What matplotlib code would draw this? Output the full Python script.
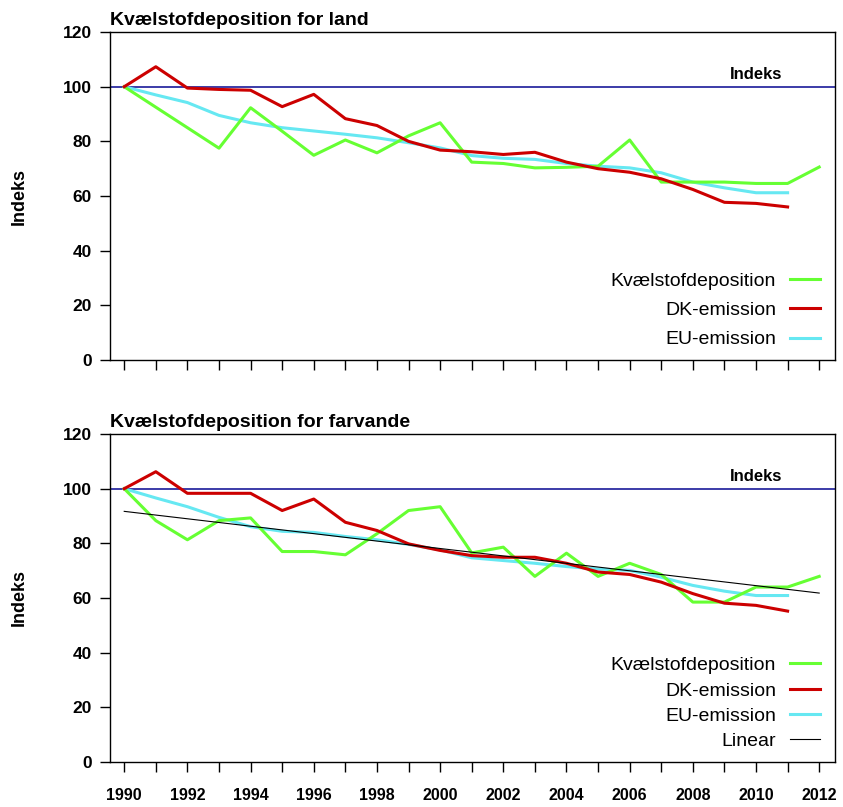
import matplotlib
matplotlib.use("Agg")
import matplotlib.pyplot as plt

plt.rcParams['font.family'] = ['Liberation Sans', 'DejaVu Sans']

years = list(range(1990, 2013))
years_emis = list(range(1990, 2012))

# Kvaelstofdeposition for land
land_dep = [100, 92.5, 85, 77.5, 92.3, 83.7, 74.9, 80.5, 75.8, 82, 86.8, 72.4,
            71.9, 70.3, 70.5, 70.9, 80.5, 65.1, 65.1, 65.1, 64.6, 64.6, 70.6]
land_dk = [100, 107.3, 99.5, 99, 98.7, 92.7, 97.2, 88.3, 85.8, 80, 76.8, 76.2,
           75.2, 76, 72.4, 70, 68.7, 66.3, 62.4, 57.7, 57.3, 56]
land_eu = [100, 97, 94.2, 89.5, 86.8, 85, 83.8, 82.6, 81.3, 79.5, 77.6, 74.8,
           73.8, 73.4, 71.9, 70.9, 70.3, 68.5, 65.1, 63, 61.2, 61.2]

# Kvaelstofdeposition for farvande
sea_dep = [100, 88.3, 81.3, 88.3, 89.3, 77, 77, 75.8, 83.5, 92, 93.4, 76.5,
           78.6, 67.9, 76.4, 67.9, 72.7, 68.6, 58.5, 58.5, 64, 64, 67.9]
sea_dk = [100, 106.2, 98.3, 98.3, 98.3, 92, 96.2, 87.7, 84.7, 79.8, 77.4, 75.5,
          74.9, 74.9, 72.7, 69.5, 68.6, 65.8, 61.6, 58.1, 57.3, 55.2]
sea_eu = [100, 96.6, 93.4, 89.5, 86.1, 84.4, 84, 82.5, 81.3, 79.6, 77.6, 74.7,
          73.7, 72.7, 71.5, 70.6, 70.1, 67.6, 64.6, 62.5, 60.9, 60.9]
sea_linear_years = [1990, 2012]
sea_linear = [91.7, 61.8]

titles = ["Kvælstofdeposition for land", "Kvælstofdeposition for farvande"]
labels = ["Kvælstofdeposition", "DK-emission", "EU-emission", "Linear"]

GREEN = "#66ff33"
RED = "#cc0000"
CYAN = "#66e8f2"
BLUE = "#1a1a99"

fig = plt.figure(figsize=(8.43, 8.07), dpi=100)
ax1 = fig.add_axes([0.1305, 0.5539, 0.86, 0.4064])
ax2 = fig.add_axes([0.1305, 0.0558, 0.86, 0.4064])

panels = [(ax1, land_dep, land_dk, land_eu), (ax2, sea_dep, sea_dk, sea_eu)]
for i, (ax, dep, dk, eu) in enumerate(panels):
    ax.axhline(100, color=BLUE, lw=1.2, zorder=1)
    ax.text(2010.0, 101.8, "Indeks", ha="center", va="bottom",
            fontsize=12, fontweight="bold")
    h_dep, = ax.plot(years, dep, color=GREEN, lw=2.2, label=labels[0], zorder=3)
    h_dk, = ax.plot(years_emis, dk, color=RED, lw=2.2, label=labels[1], zorder=3)
    h_eu, = ax.plot(years_emis, eu, color=CYAN, lw=2.2, label=labels[2], zorder=2)
    handles = [h_dep, h_dk, h_eu]
    if i == 1:
        h_lin, = ax.plot(sea_linear_years, sea_linear, color="black", lw=0.8,
                         label=labels[3], zorder=4)
        handles.append(h_lin)
    ax.set_xlim(1989.55, 2012.5)
    ax.set_ylim(0, 120)
    ax.set_yticks(range(0, 121, 20))
    ax.set_xticks(years)
    if i == 1:
        ax.set_xticklabels([str(y) if y % 2 == 0 else "" for y in years])
    else:
        ax.set_xticklabels([])
    ax.tick_params(axis="x", direction="out", length=7.5, width=1, pad=11,
                   labelsize=11.5)
    ax.tick_params(axis="y", direction="out", length=7, width=1, pad=6,
                   labelsize=12.5)
    for lab in ax.get_xticklabels() + ax.get_yticklabels():
        lab.set_fontweight("bold")
    for sp in ax.spines.values():
        sp.set_linewidth(1.0)
    ax.set_ylabel("Indeks", fontsize=13, fontweight="bold")
    ax.yaxis.set_label_coords(-0.114, 0.5)
    ax.set_title(titles[i], loc="left", fontsize=14, fontweight="bold", pad=5)
    ax.legend(handles=handles, loc="lower right", frameon=False,
              markerfirst=False, fontsize=14, handlelength=1.55,
              handletextpad=0.7,
              labelspacing=0.6 if i == 0 else 0.4, borderaxespad=0.2,
              bbox_to_anchor=(0.995, 0.0))

fig.savefig("out.png", dpi=100)
